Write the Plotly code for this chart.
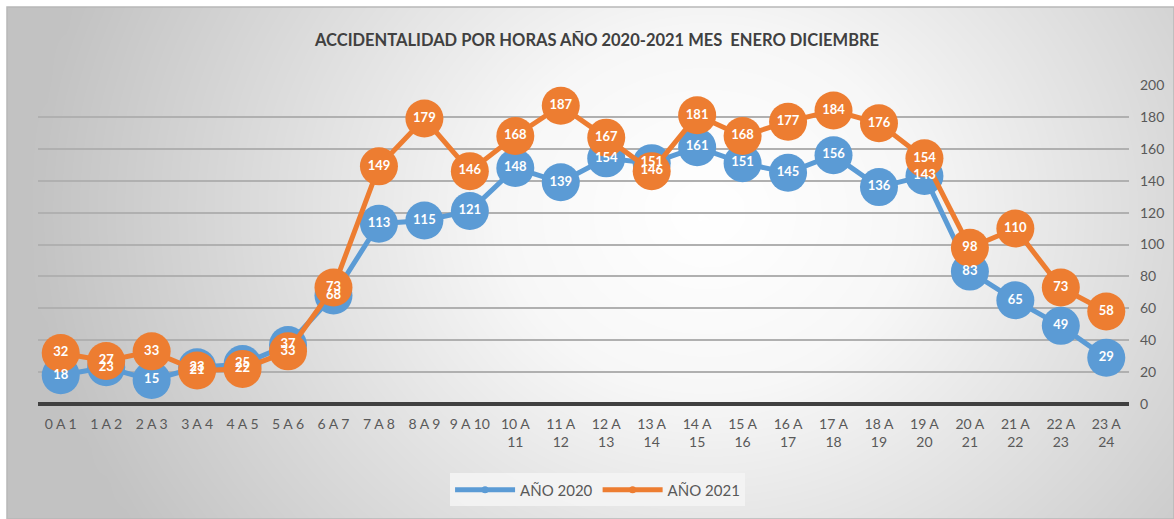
import numpy as np
import plotly.graph_objects as go

categories = ["0 A 1", "1 A 2", "2 A 3", "3 A 4", "4 A 5", "5 A 6", "6 A 7", "7 A 8",
              "8 A 9", "9 A 10", "10 A<br>11", "11 A<br>12", "12 A<br>13", "13 A<br>14",
              "14 A<br>15", "15 A<br>16", "16 A<br>17", "17 A<br>18", "18 A<br>19",
              "19 A<br>20", "20 A<br>21", "21 A<br>22", "22 A<br>23", "23 A<br>24"]
anio_2020 = [18, 23, 15, 23, 25, 37, 68, 113, 115, 121, 148, 139, 154, 151, 161, 151,
             145, 156, 136, 143, 83, 65, 49, 29]
anio_2021 = [32, 27, 33, 21, 22, 33, 73, 149, 179, 146, 168, 187, 167, 146, 181, 168,
             177, 184, 176, 154, 98, 110, 73, 58]
y_ticks = [0, 20, 40, 60, 80, 100, 120, 140, 160, 180, 200]

BLUE = "#5B9BD5"
ORANGE = "#ED7D31"
FONT = "Lato"
W, H = 1174, 519

# radial background gradient (drawn as heatmap behind the chart)
gx = np.linspace(0, 1, 60)
gy = np.linspace(0, 1, 30)
GX, GY = np.meshgrid(gx, gy)
cx, cy = 0.6, 0.6
d = np.sqrt(((GX - cx) * 1.0) ** 2 + ((GY - cy) * 0.5) ** 2)
z = np.clip(d / 0.58, 0, 1)

fig = go.Figure()
fig.add_trace(go.Heatmap(x=gx, y=gy, z=z, zsmooth="best", showscale=False,
                         colorscale=[[0, "#ffffff"], [0.3, "#f7f7f7"], [1, "#c2c2c2"]],
                         zmin=0, zmax=1, hoverinfo="skip", xaxis="x", yaxis="y"))

line_w = 5
msize = 38
fig.add_trace(go.Scatter(x=categories, y=anio_2020, mode="lines+markers",
                         line=dict(color=BLUE, width=line_w),
                         marker=dict(size=msize, color=BLUE),
                         showlegend=False, xaxis="x2", yaxis="y2"))
fig.add_trace(go.Scatter(x=categories, y=anio_2021, mode="lines+markers",
                         line=dict(color=ORANGE, width=line_w),
                         marker=dict(size=msize, color=ORANGE),
                         showlegend=False, xaxis="x2", yaxis="y2"))
for vals in (anio_2020, anio_2021):
    fig.add_trace(go.Scatter(x=categories, y=vals, mode="text", text=[str(v) for v in vals],
                             textposition="middle center",
                             textfont=dict(family=FONT, size=13, color="white", weight="bold"),
                             showlegend=False, hoverinfo="skip", xaxis="x2", yaxis="y2"))
# legend entries
fig.add_trace(go.Scatter(x=[None], y=[None], mode="lines+markers", name="AÑO 2020",
                         line=dict(color=BLUE, width=5), marker=dict(size=7, color=BLUE),
                         xaxis="x2", yaxis="y2"))
fig.add_trace(go.Scatter(x=[None], y=[None], mode="lines+markers", name="AÑO 2021",
                         line=dict(color=ORANGE, width=5), marker=dict(size=7, color=ORANGE),
                         xaxis="x2", yaxis="y2"))

fig.update_traces(cliponaxis=False, selector=dict(type="scatter"))

fig.update_layout(
    width=W, height=H,
    margin=dict(l=0, r=0, t=0, b=0),
    paper_bgcolor="white",
    plot_bgcolor="rgba(0,0,0,0)",
    font=dict(family=FONT, color="#595959"),
    xaxis=dict(domain=[7 / W, 1], range=[0, 1], visible=False, fixedrange=True),
    yaxis=dict(domain=[0, 1 - 7 / H], range=[0, 1], visible=False, fixedrange=True),
    xaxis2=dict(domain=[38 / W, 1129 / W], anchor="y2", type="category",
                range=[-0.5, len(categories) - 0.5],
                showgrid=False, showline=False, ticks="", zeroline=False,
                tickfont=dict(family=FONT, size=14, color="#595959"),
                tickangle=0, automargin=False, ticklabelstandoff=10),
    yaxis2=dict(domain=[(H - 404) / H, (H - 85) / H], anchor="x2", side="right",
                range=[0, 200], tickvals=y_ticks, showgrid=True,
                gridcolor="#b0b0b0", gridwidth=1.6,
                zeroline=True, zerolinecolor="#404040", zerolinewidth=4,
                showline=False, ticks="", automargin=False,
                tickfont=dict(family=FONT, size=14, color="#595959"),
                ticklabelstandoff=10),
    legend=dict(orientation="h", x=0.509, y=0.056, xanchor="center", yanchor="middle",
                bgcolor="rgba(245,245,245,0.85)", font=dict(family=FONT, size=15, color="#595959"),
                itemwidth=60),
    annotations=[dict(text="ACCIDENTALIDAD POR HORAS AÑO 2020-2021 MES  ENERO DICIEMBRE",
                      x=0.5085, y=(H - 40) / H, xref="paper", yref="paper",
                      showarrow=False, xanchor="center", yanchor="middle",
                      font=dict(family=FONT, size=16.5, color="#404040", weight="bold"))],
    shapes=[dict(type="rect", xref="paper", yref="paper", x0=7 / W, x1=1, y0=0, y1=1 - 7 / H,
                 line=dict(color="#b8b8b8", width=1.5), layer="above")],
)

fig.write_html("out.html", config={"displayModeBar": False},
               post_script="document.body.style.margin='0';document.body.style.padding='0';")
